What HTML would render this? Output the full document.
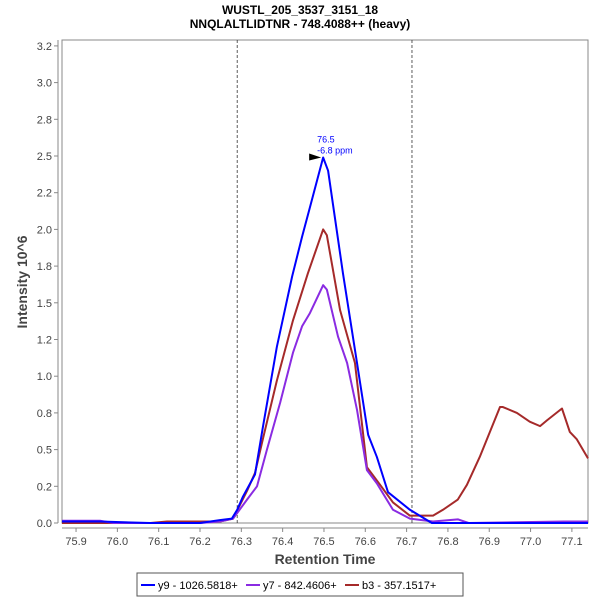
<!DOCTYPE html>
<html><head><meta charset="utf-8"><style>
body{margin:0;background:#fff;width:600px;height:600px;overflow:hidden;font-family:"Liberation Sans",sans-serif}
</style></head><body>
<svg id="chart" width="600" height="600" xmlns="http://www.w3.org/2000/svg" font-family="Liberation Sans, sans-serif">
<text x="300" y="14" text-anchor="middle" font-size="12" font-weight="bold">WUSTL_205_3537_3151_18</text>
<text x="300" y="28" text-anchor="middle" font-size="12" font-weight="bold">NNQLALTLIDTNR - 748.4088++ (heavy)</text>
<rect x="62" y="40" width="526" height="483" fill="#fff" stroke="#888"/>
<line x1="58" y1="40" x2="58" y2="523" stroke="#888"/>
<line x1="62" y1="528" x2="588" y2="528" stroke="#888"/>
<text x="325" y="564" text-anchor="middle" font-size="14" font-weight="bold" fill="#444">Retention Time</text>
<text transform="translate(27,282) rotate(-90)" text-anchor="middle" font-size="14" font-weight="bold" fill="#444">Intensity 10^6</text>
<g id="ticks"></g><g id="marks"></g>
<g>
<rect x="137" y="573" width="326" height="23" fill="#fff" stroke="#555"/>
<line x1="141" y1="585" x2="155" y2="585" stroke="#0000ff" stroke-width="2"/>
<text x="158" y="589" font-size="11">y9 - 1026.5818+</text>
<line x1="246" y1="585" x2="260" y2="585" stroke="#8a2be2" stroke-width="2"/>
<text x="263" y="589" font-size="11">y7 - 842.4606+</text>
<line x1="345" y1="585" x2="359" y2="585" stroke="#a52a2a" stroke-width="2"/>
<text x="362" y="589" font-size="11">b3 - 357.1517+</text>
</g>
</svg>
<script>
const xTicks=[75.9,76.0,76.1,76.2,76.3,76.4,76.5,76.6,76.7,76.8,76.9,77.0,77.1];
const yTicks=[0,0.25,0.5,0.75,1,1.25,1.5,1.75,2,2.25,2.5,2.75,3,3.25];
const boundaries=[76.290,76.713];
const y9Time=[75.866,75.958,76.079,76.200,76.248,76.277,76.290,76.304,76.333,76.352,76.386,76.423,76.447,76.466,76.498,76.510,76.546,76.580,76.607,76.628,76.655,76.708,76.761,76.9,77.139];
const y9Val=[0.01,0.01,0.0,0.0,0.02,0.03,0.09,0.18,0.33,0.65,1.2,1.68,1.95,2.15,2.49,2.4,1.70,1.09,0.6,0.45,0.21,0.09,0.0,0.0,0.0];
const y7Time=[75.866,75.958,75.99,76.200,76.248,76.280,76.314,76.338,76.362,76.394,76.425,76.447,76.466,76.498,76.507,76.534,76.556,76.580,76.604,76.628,76.667,76.708,76.764,76.824,76.85,77.08,77.139];
const y7Val=[0.015,0.015,0.0,0.0,0.01,0.03,0.16,0.25,0.50,0.82,1.16,1.34,1.43,1.62,1.59,1.27,1.09,0.77,0.36,0.27,0.09,0.03,0.01,0.025,0.0,0.01,0.01];
const b3Time=[75.866,76.08,76.12,76.2,76.248,76.280,76.314,76.333,76.352,76.386,76.425,76.461,76.498,76.507,76.539,76.575,76.604,76.628,76.667,76.708,76.764,76.788,76.824,76.846,76.877,76.926,76.933,76.967,76.998,77.023,77.040,77.076,77.095,77.112,77.139];
const b3Val=[0.0,0.0,0.01,0.01,0.01,0.03,0.22,0.34,0.57,0.97,1.38,1.70,2.0,1.96,1.45,1.09,0.38,0.29,0.14,0.05,0.05,0.09,0.16,0.26,0.45,0.79,0.79,0.75,0.69,0.66,0.70,0.78,0.62,0.57,0.44];
const NS="http://www.w3.org/2000/svg";
const X=t=>62+(t-75.866)/(77.139-75.866)*526;
const Y=v=>523-v*146.8;
const tk=document.getElementById('ticks'),mk=document.getElementById('marks');
function el(tag,attrs,parent){const e=document.createElementNS(NS,tag);for(const k in attrs)e.setAttribute(k,attrs[k]);parent.appendChild(e);return e;}
function halfEven(v){const r=v*10;const f=Math.floor(r);const d=r-f;let n;if(Math.abs(d-0.5)<1e-9)n=(f%2===0)?f:f+1;else n=Math.round(r);return (n/10).toFixed(1);}
xTicks.forEach(t=>{
  const l=el('line',{x1:X(t),x2:X(t),y1:528,y2:532,stroke:'#888'},tk);
  
  
  const s=el('text',{x:X(t),y:545,'text-anchor':'middle','font-size':11,fill:'#444'},tk);
  
  
  s.textContent=t.toFixed(1);
});
yTicks.forEach(v=>{
  const l=el('line',{x1:54,x2:58,y1:Y(v),y2:Y(v),stroke:'#888'},tk);
  
  
  const s=el('text',{x:52,y:Y(v)+4,'text-anchor':'end','font-size':11,fill:'#444'},tk);
  
  
  s.textContent=halfEven(v);
});
boundaries.forEach(t=>{
  const l=el('line',{x1:X(t),x2:X(t),y1:40,y2:523,stroke:'#333','stroke-width':0.8,'stroke-dasharray':'3,2'},mk);
  
  
});
function series(ts,vs,color,name){
  const p=el('polyline',{points:ts.map((t,i)=>X(t)+','+Y(vs[i])).join(' '),fill:'none',stroke:color,'stroke-width':2,'stroke-linejoin':'round'},mk);
  
  
}
series(b3Time,b3Val,'#a52a2a','series-b3');
series(y7Time,y7Val,'#8a2be2','series-y7');
series(y9Time,y9Val,'#0000ff','series-y9');
let mi=0;y9Val.forEach((v,i)=>{if(v>y9Val[mi])mi=i;});
const px=X(y9Time[mi]),py=Y(y9Val[mi]);
const ar=el('polygon',{points:(px-14)+','+(py-4)+' '+(px-2)+','+py+' '+(px-14)+','+(py+3),fill:'#000'},mk);


const a1=el('text',{x:px-6,y:py-15,'font-size':9,fill:'#0000ff'},mk);


a1.textContent='76.5';
const a2=el('text',{x:px-6,y:py-4,'font-size':9,fill:'#0000ff'},mk);


a2.textContent='-6.8 ppm';
</script>
</body></html>
